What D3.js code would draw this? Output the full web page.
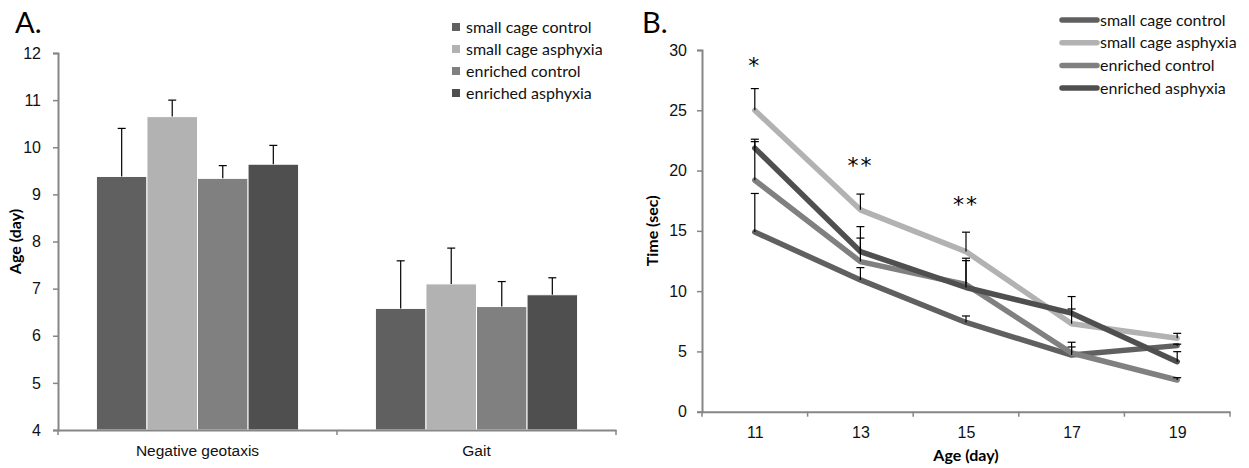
<!DOCTYPE html>
<html>
<head>
<meta charset="utf-8">
<script src="https://cdn.jsdelivr.net/npm/d3@7"></script>
<style>
  body { margin: 0; background: #fff; }
  svg { font-family: Lato, "Open Sans", sans-serif; }
</style>
</head>
<body>
<svg width="1249" height="468"></svg>
<script>
// groups and colours shared by both panels
const groups = ["small cage control", "small cage asphyxia", "enriched control", "enriched asphyxia"];
const colors = ["#606060", "#b2b2b2", "#808080", "#4f4f4f"];

// panel A
const tests = ["Negative geotaxis", "Gait"];
const ageMean = [[9.38, 10.65, 9.34, 9.64], [6.58, 7.10, 6.62, 6.87]];
const ageErr = [[1.02, 0.35, 0.27, 0.40], [1.01, 0.76, 0.53, 0.36]];
const ageTicks = [4, 5, 6, 7, 8, 9, 10, 11, 12];

// panel B
const days = [11, 13, 15, 17, 19];
const timeMean = [
    [14.9, 10.93, 7.4, 4.7, 5.48],
    [25.0, 16.74, 13.28, 7.3, 6.09],
    [19.2, 12.45, 10.55, 4.87, 2.63],
    [21.86, 13.28, 10.3, 8.17, 4.15]
];
const timeErr = [
    [3.2, 1.02, 0.54, 1.06, 0.12],
    [1.8, 1.31, 1.61, 1.22, 0.41],
    [3.2, 1.95, 2.18, 0.5, 0.19],
    [0.74, 2.07, 2.23, 1.38, 0.83]
];
const timeTicks = [0, 5, 10, 15, 20, 25, 30];
const stars = [{day: 11, text: "*", y: 28.8}, {day: 13, text: "**", y: 20.5}, {day: 15, text: "**", y: 17.3}];

const svg = d3.select("svg");
const axisCol = "#868686";

function styleAxis(g) {
    g.select(".domain").attr("stroke", axisCol).attr("stroke-width", 2);
    g.selectAll(".tick line").attr("stroke", axisCol).attr("stroke-width", 1.5);
    g.selectAll(".tick text").attr("fill", "#111").style("font-size", "16px");
}

// ---------- panel A ----------
const yA = d3.scaleLinear().domain([4, 12]).range([430, 53]);
const x0 = d3.scaleBand().domain(tests).range([58, 616]);
const x1 = d3.scaleBand().domain(groups).range([0, x0.bandwidth()]).paddingOuter(0.76);

svg.append("text").attr("x", 15).attr("y", 33).style("font-size", "29px").text("A.");

const barG = svg.append("g");
tests.forEach((t, i) => {
    groups.forEach((gname, j) => {
        const x = x0(t) + x1(gname);
        const w = x1.bandwidth();
        barG.append("rect")
            .attr("x", x).attr("y", yA(ageMean[i][j]))
            .attr("width", w).attr("height", yA(4) - yA(ageMean[i][j]))
            .attr("fill", colors[j]).attr("stroke", "#fff").attr("stroke-width", 1);
        const cx = x + w / 2;
        barG.append("line")
            .attr("x1", cx).attr("x2", cx)
            .attr("y1", yA(ageMean[i][j])).attr("y2", yA(ageMean[i][j] + ageErr[i][j]))
            .attr("stroke", "#000").attr("stroke-width", 1.2);
        barG.append("line")
            .attr("x1", cx - 4).attr("x2", cx + 4)
            .attr("y1", yA(ageMean[i][j] + ageErr[i][j])).attr("y2", yA(ageMean[i][j] + ageErr[i][j]))
            .attr("stroke", "#000").attr("stroke-width", 1.2);
    });
});

const yAxA = svg.append("g").attr("transform", "translate(58,0)")
    .call(d3.axisLeft(yA).tickValues(ageTicks).tickSizeOuter(0).tickSize(5).tickPadding(12));
styleAxis(yAxA);

const xAxA = svg.append("g").attr("transform", "translate(0,430)")
    .call(d3.axisBottom(x0).tickSize(0).tickSizeOuter(0).tickPadding(15));
styleAxis(xAxA);
xAxA.selectAll(".tick text").style("font-size", "15.5px");
// band boundary ticks
xAxA.selectAll(".bnd").data([0, 1, 2]).enter().append("line")
    .attr("x1", d => 58 + d * x0.step()).attr("x2", d => 58 + d * x0.step())
    .attr("y1", 0).attr("y2", 5).attr("stroke", axisCol).attr("stroke-width", 1.5);

svg.append("text")
    .attr("transform", `translate(21,${(yA(4) + yA(12)) / 2}) rotate(-90)`)
    .attr("text-anchor", "middle").style("font-size", "16px").style("font-weight", "bold")
    .text("Age (day)");

const legA = svg.append("g");
groups.forEach((gname, j) => {
    const y = 27 + j * 22;
    legA.append("rect").attr("x", 452).attr("y", y - 4).attr("width", 8).attr("height", 8).attr("fill", colors[j]);
    legA.append("text").attr("x", 466).attr("y", y).attr("dy", "0.35em").style("font-size", "16px").attr("fill", "#111").text(gname);
});

// ---------- panel B ----------
const xB = d3.scalePoint().domain(days).range([702, 1230]).padding(0.5);
const yB = d3.scaleLinear().domain([0, 30]).range([411.7, 50]);

svg.append("text").attr("x", 642).attr("y", 33).style("font-size", "29px").text("B.");

const yAxB = svg.append("g").attr("transform", "translate(702,0)")
    .call(d3.axisLeft(yB).tickValues(timeTicks).tickSizeOuter(0).tickSize(5).tickPadding(10));
styleAxis(yAxB);

const xAxB = svg.append("g").attr("transform", "translate(0,411.7)")
    .call(d3.axisBottom(xB).tickSize(0).tickSizeOuter(0).tickPadding(15));
styleAxis(xAxB);
xAxB.selectAll(".bnd").data(d3.range(days.length + 1)).enter().append("line")
    .attr("x1", d => 702 + d * xB.step()).attr("x2", d => 702 + d * xB.step())
    .attr("y1", 0).attr("y2", 5).attr("stroke", axisCol).attr("stroke-width", 1.5);

const line = d3.line().x((d, i) => xB(days[i])).y(d => yB(d));
const lineG = svg.append("g");
timeMean.forEach((s, j) => {
    lineG.append("path").attr("d", line(s)).attr("fill", "none")
        .attr("stroke", colors[j]).attr("stroke-width", 5.5)
        .attr("stroke-linecap", "round").attr("stroke-linejoin", "round");
});

const errG = svg.append("g");
timeMean.forEach((s, j) => {
    s.forEach((v, i) => {
        const cx = xB(days[i]);
        const top = yB(v + timeErr[j][i]);
        errG.append("line").attr("x1", cx).attr("x2", cx).attr("y1", yB(v)).attr("y2", top)
            .attr("stroke", "#000").attr("stroke-width", 1.2);
        errG.append("line").attr("x1", cx - 4).attr("x2", cx + 4).attr("y1", top).attr("y2", top)
            .attr("stroke", "#000").attr("stroke-width", 1.2);
    });
});

svg.append("g").selectAll("text").data(stars).enter().append("text")
    .attr("x", d => xB(d.day)).attr("y", d => yB(d.y))
    .attr("text-anchor", "middle").attr("dy", "0.4em")
    .style("font-family", "'DejaVu Sans', sans-serif").style("font-size", "22px").style("letter-spacing", "2px")
    .text(d => d.text);

svg.append("text")
    .attr("transform", `translate(658,${(yB(0) + yB(30)) / 2}) rotate(-90)`)
    .attr("text-anchor", "middle").style("font-size", "16px").style("font-weight", "bold")
    .text("Time (sec)");
svg.append("text")
    .attr("x", (702 + 1230) / 2).attr("y", 461)
    .attr("text-anchor", "middle").style("font-size", "16px").style("font-weight", "bold")
    .text("Age (day)");

const legB = svg.append("g");
groups.forEach((gname, j) => {
    const y = 20 + j * 22.7;
    legB.append("line").attr("x1", 1062).attr("x2", 1097).attr("y1", y).attr("y2", y)
        .attr("stroke", colors[j]).attr("stroke-width", 5.5).attr("stroke-linecap", "round");
    legB.append("text").attr("x", 1100).attr("y", y).attr("dy", "0.35em").style("font-size", "16px").attr("fill", "#111").text(gname);
});
</script>
</body>
</html>
